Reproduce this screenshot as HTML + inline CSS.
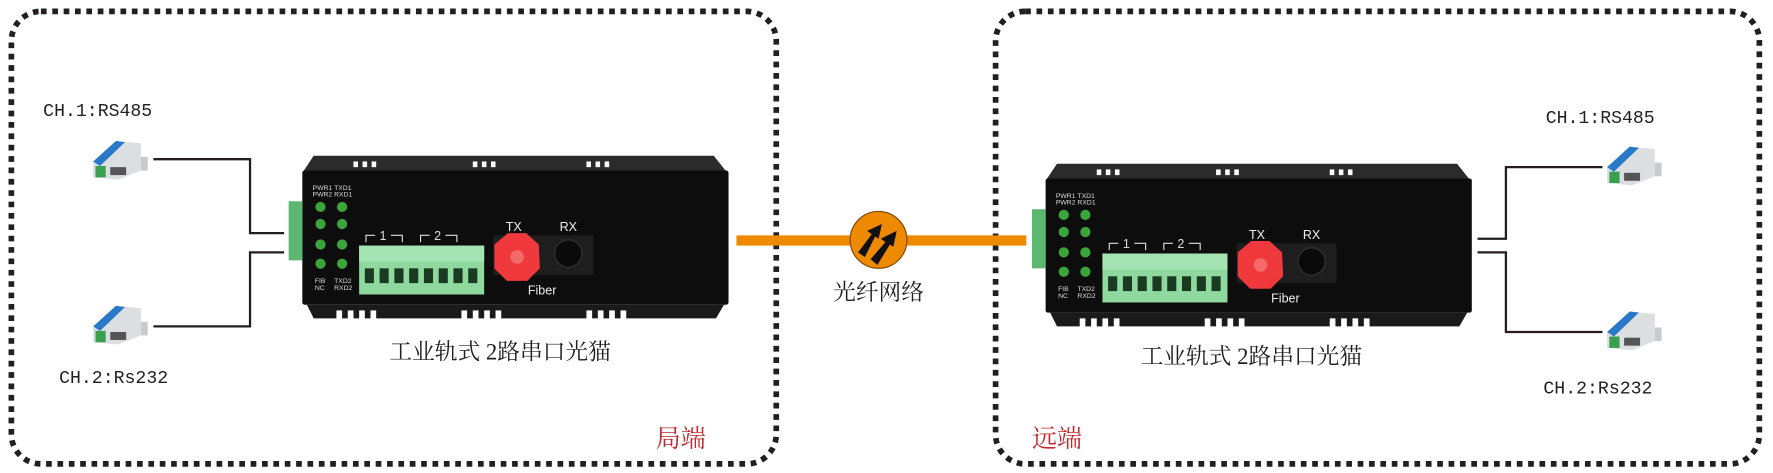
<!DOCTYPE html>
<html><head><meta charset="utf-8"><style>
html,body{margin:0;padding:0;background:#fff;}
svg{display:block;}
text{font-family:"Liberation Serif","Noto Serif CJK SC",serif;}
.s text, text.s{font-family:"Liberation Sans","Noto Sans CJK SC",sans-serif;}
.m text{font-family:"Liberation Mono","Noto Sans CJK SC",monospace;}
</style></head><body>
<svg width="1773" height="473" viewBox="0 0 1560 416" preserveAspectRatio="none" xmlns="http://www.w3.org/2000/svg">
<defs>
<g id="conv">
  <polygon points="2,22 22,4 44,6 44,30 24,38 2,36" fill="#dcdfe2"/>
  <polygon points="2,22 22,4 30,5 8,26" fill="#2a78c8"/>
  <rect x="44" y="18" width="6" height="12" fill="#c8cbce"/>
  <rect x="4" y="26" width="9" height="10" fill="#3aa050"/>
  <rect x="17" y="27" width="14" height="7" fill="#555"/>
</g>
<g id="dev">
  <polygon points="10,0 362,0 374,15 0,15" fill="#2b2b2b"/>
  <g fill="#fff"><rect x="45" y="5" width="4" height="5"/><rect x="53" y="5" width="4" height="5"/><rect x="61" y="5" width="4" height="5"/><rect x="150" y="5" width="4" height="5"/><rect x="158" y="5" width="4" height="5"/><rect x="166" y="5" width="4" height="5"/><rect x="250" y="5" width="4" height="5"/><rect x="258" y="5" width="4" height="5"/><rect x="266" y="5" width="4" height="5"/></g>
  <rect x="0" y="13" width="375" height="118" fill="#0d0d0d" rx="2"/>
  <polygon points="4,131 371,131 364,143 10,143" fill="#1a1a1a"/>
  <g fill="#fff"><rect x="30" y="136" width="5" height="8"/><rect x="40" y="136" width="5" height="8"/><rect x="50" y="136" width="5" height="8"/><rect x="60" y="136" width="5" height="8"/><rect x="140" y="136" width="5" height="8"/><rect x="150" y="136" width="5" height="8"/><rect x="160" y="136" width="5" height="8"/><rect x="170" y="136" width="5" height="8"/><rect x="250" y="136" width="5" height="8"/><rect x="260" y="136" width="5" height="8"/><rect x="270" y="136" width="5" height="8"/><rect x="280" y="136" width="5" height="8"/></g>
  <rect x="-12" y="40" width="12" height="52" fill="#5cb870"/>
  <g class="s" font-size="6" fill="#ddd">
    <text x="9" y="30">PWR1</text><text x="9" y="36">PWR2</text><text x="28" y="30">TXD1</text><text x="28" y="36">RXD1</text>
    <text x="11" y="112">FIB</text><text x="11" y="118">NC</text><text x="28" y="112">TXD2</text><text x="28" y="118">RXD2</text>
  </g>
  <g fill="#3aa53a"><circle cx="16" cy="45" r="4.5"/><circle cx="35" cy="45" r="4.5"/><circle cx="16" cy="60" r="4.5"/><circle cx="35" cy="60" r="4.5"/><circle cx="16" cy="78" r="4.5"/><circle cx="35" cy="78" r="4.5"/><circle cx="16" cy="95" r="4.5"/><circle cx="35" cy="95" r="4.5"/></g>
  <g stroke="#ddd" stroke-width="1" fill="none"><path d="M56,76 V70 H64 M78,70 H88 V76"/><path d="M104,76 V70 H112 M126,70 H136 V76"/></g>
  <g class="s" font-size="11" fill="#ddd" text-anchor="middle"><text x="71" y="74">1</text><text x="119" y="74">2</text></g>
  <rect x="50" y="79" width="110" height="43" fill="#8fd89e"/>
  <rect x="50" y="79" width="110" height="14" fill="#a6e3b2"/>
  <g fill="#1a3a22"><rect x="55" y="99" width="8" height="13"/><rect x="68" y="99" width="8" height="13"/><rect x="81" y="99" width="8" height="13"/><rect x="94" y="99" width="8" height="13"/><rect x="107" y="99" width="8" height="13"/><rect x="120" y="99" width="8" height="13"/><rect x="133" y="99" width="8" height="13"/><rect x="146" y="99" width="8" height="13"/></g>
  <rect x="168" y="70" width="88" height="35" fill="#1e1e1e"/>
  <polygon points="181,68 197,68 208,78 209,99 198,110 180,110 169,99 169,78" fill="#f0393c"/>
  <circle cx="189" cy="89" r="6" fill="#f46a6a"/>
  <circle cx="234" cy="86" r="12" fill="#0a0a0a" stroke="#333"/>
  <g class="s" font-size="11" fill="#eee" text-anchor="middle"><text x="186" y="66">TX</text><text x="234" y="66">RX</text><text x="211" y="122">Fiber</text></g>
</g>
</defs>
<g fill="none" stroke="#231f20" stroke-width="5" stroke-dasharray="5 5">
<rect x="10" y="10" width="673" height="398" rx="26"/>
<rect x="876" y="10" width="672" height="398" rx="26"/>
</g>
<use href="#dev" x="266" y="137"/>
<use href="#dev" x="920" y="144"/>
<g stroke="#231f20" stroke-width="2" fill="none">
<path d="M135,140 H220 V205 H250"/>
<path d="M250,222 H220 V287 H135"/>
<path d="M1300,210 H1325 V147 H1410"/>
<path d="M1300,222 H1325 V292 H1410"/>
</g>
<use href="#conv" x="80" y="120"/>
<use href="#conv" x="80" y="265"/>
<use href="#conv" x="1412" y="125"/>
<use href="#conv" x="1412" y="270"/>
<rect x="648" y="207" width="255" height="9" fill="#ee8a00"/>
<circle cx="773" cy="211" r="25" fill="#ee8a00" stroke="#7a4500" stroke-width="1"/>
<g fill="#111"><polygon points="755,222 767,206 763,203 776,197 773,210 770,208 761,226"/><polygon points="766,228 779,213 775,210 789,203 786,217 783,215 772,233"/></g>
<g class="m" font-size="16" fill="#231f20">
<text x="38" y="102">CH.1:RS485</text>
<text x="52" y="337">CH.2:Rs232</text>
<text x="1360" y="108">CH.1:RS485</text>
<text x="1358" y="346">CH.2:Rs232</text>
</g>
<g font-size="20" fill="#231f20" text-anchor="middle">
<text x="440" y="316">工业轨式 2路串口光猫</text>
<text x="1101" y="320">工业轨式 2路串口光猫</text>
<text x="773" y="264">光纤网络</text>
</g>
<g font-size="22" fill="#c0282c"><text x="577" y="393">局端</text><text x="908" y="393">远端</text></g>
</svg>
</body></html>
